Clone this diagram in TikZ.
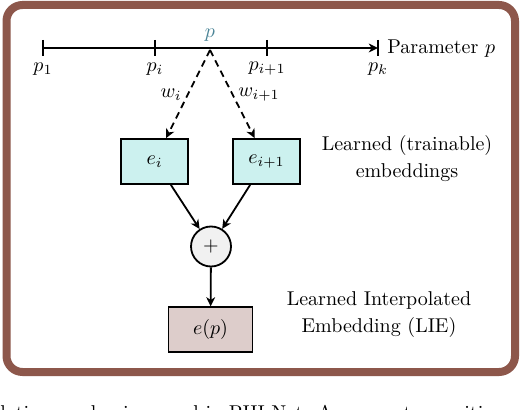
\documentclass[tikz,border=0pt]{standalone}
\usetikzlibrary{arrows.meta}
\definecolor{framebrown}{RGB}{141,87,75}
\definecolor{embcyan}{RGB}{204,241,239}
\definecolor{liefill}{RGB}{221,205,203}
\definecolor{plusfill}{RGB}{241,241,241}
\definecolor{pteal}{RGB}{74,132,150}
\begin{document}
\begin{tikzpicture}[x=0.5pt,y=-0.5pt,
  tip/.style={-{Stealth[length=4.6pt,width=4.4pt,inset=1.4pt]}},
  conn/.style={line width=0.9pt,tip},
  dasharrow/.style={conn,dash pattern=on 3.4pt off 2.4pt},
  embbox/.style={draw,line width=0.9pt,fill=embcyan,minimum width=33.5pt,minimum height=22.5pt,inner sep=0pt},
  liebox/.style={draw,line width=0.9pt,fill=liefill,minimum width=42pt,minimum height=22.5pt,inner sep=0pt},
  plusnode/.style={draw,circle,line width=0.9pt,fill=plusfill,minimum size=20pt,inner sep=0pt},
  tickmark/.style={line width=0.9pt},
  note/.style={align=center,inner sep=0pt}]
\useasboundingbox (0,0) rectangle (522,410);
\fill[white] (0,0) rectangle (522,410);
% frame
\draw[framebrown,line width=4pt,rounded corners=8pt] (6.5,5) rectangle (515,372);
% axis
\coordinate (a1) at (43,48);
\coordinate (ai) at (155,48);
\coordinate (ai1) at (267,48);
\coordinate (ak) at (378,48);
\coordinate (pt) at (210,50);
\draw[conn] (a1) -- (ak);
\foreach \c in {a1,ai,ai1,ak}{
  \draw[tickmark] ([yshift=4pt]\c) -- ([yshift=-4pt]\c);
}
\node (l1) at (43,69) {$p_1$};
\node (li) at (155,69) {$p_i$};
\node (li1) at (267,69) {$p_{i+1}$};
\node (lk) at (378,69) {$p_k$};
\node[anchor=west,inner sep=0pt] (param) at (387,49) {Parameter $p$};
\node[text=pteal,inner sep=0pt] (plabel) at (210,35) {$p$};
% embeddings
\node[embbox] (ei) at (154.5,161.5) {$e_i$};
\node[embbox] (ei1) at (266.5,161.5) {$e_{i+1}$};
\draw[dasharrow] (pt) -- (ei);
\draw[dasharrow] (pt) -- (ei1);
\node (wi) at (171,95) {$w_i$};
\node (wi1) at (259,95) {$w_{i+1}$};
% sum
\node[plusnode] (plus) at (211,246.5) {$+$};
\draw[conn] (ei.-55) -- (plus);
\draw[conn] (ei1.-125) -- (plus);
\node[liebox] (lie) at (210.5,329.8) {$e(p)$};
\draw[conn] (plus) -- (lie);
% notes
\node[note] (n1) at (407,158.5) {Learned (trainable)\\[1.5pt]embeddings};
\node[note] (n2) at (379,314.5) {Learned Interpolated\\[1.5pt]Embedding (LIE)};
% cropped caption
\begin{scope}
\clip (0,0) rectangle (522,410);
\node[anchor=base west,inner sep=0pt] (cap) at (0,419) {lation mechanism used in PHI-Net. A parameter position $p$ is interpolated between the};
\end{scope}
\end{tikzpicture}
\end{document}
